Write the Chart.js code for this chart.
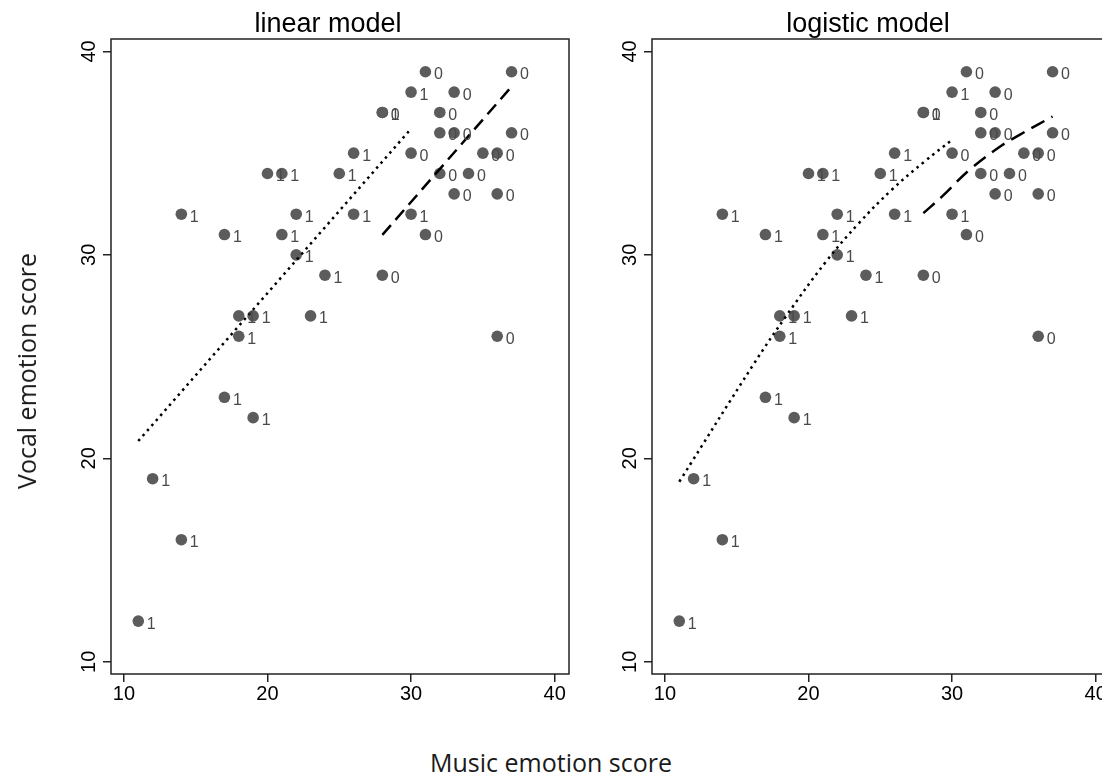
<!DOCTYPE html>
<html><head><meta charset="utf-8">
<script src="https://cdn.jsdelivr.net/npm/chart.js@4"></script>
<style>
html,body{margin:0;padding:0;background:#fff;overflow:hidden;width:1102px;height:775px;}
#wrap{position:relative;width:1102px;height:775px;overflow:hidden;background:#fff;}
.panel{position:absolute;top:0;width:580px;height:720px;}
.ptitle{position:absolute;top:6px;font-family:"Liberation Sans",Arial,sans-serif;font-size:27px;line-height:34px;color:#000;white-space:nowrap;transform:translateX(-50%);}
.atitle{position:absolute;font-family:"Open Sans",sans-serif;font-size:25px;line-height:30px;color:#1a1a1a;white-space:nowrap;}
</style></head>
<body>
<div id="wrap">
  <canvas id="c1" class="panel" width="580" height="720" style="left:0px"></canvas>
  <canvas id="c2" class="panel" width="580" height="720" style="left:541px"></canvas>
  <div class="ptitle" style="left:328px">linear model</div>
  <div class="ptitle" style="left:868px">logistic model</div>
  <div class="atitle" style="left:26px;top:371px;transform:translate(-50%,-50%) rotate(-90deg);">Vocal emotion score</div>
  <div class="atitle" style="left:551px;top:762px;transform:translate(-50%,-50%);">Music emotion score</div>
</div>
<script>
// ---- data ----
const music = [11,12,14,14,17,17,18,18,19,19,20,21,21,22,22,23,24,25,26,26,28,28,28,30,30,30,31,31,32,32,32,33,33,33,34,35,36,36,36,37,37];
const vocal = [12,19,16,32,23,31,26,27,22,27,34,34,31,32,30,27,29,34,35,32,37,37,29,38,35,32,39,31,37,36,34,38,36,33,34,35,35,33,26,39,36];
const group = [1,1,1,1,1,1,1,1,1,1,1,1,1,1,1,1,1,1,1,1,1,0,0,1,0,1,0,0,0,0,0,0,0,0,0,0,0,0,0,0,0];

const xTicks = [10,20,30,40];
const yTicks = [10,20,30,40];

// linear model fits (group 1 dotted, group 0 dashed)
const linG1X = [11, 30];
const linG1Y = [20.85, 36.2];
const linG0X = [28, 37];
const linG0Y = [30.98, 38.27];

// logistic model fits
const logG1X = [11, 16.2, 18.45, 21.2, 23.5, 25.8, 28.1, 30];
const logG1Y = [18.85, 24.65, 27.0, 29.65, 31.55, 33.2, 34.6, 35.65];
const logG0X = [28, 29.35, 31.2, 33.3, 34.7, 37];
const logG0Y = [32.05, 32.9, 34.17, 35.3, 35.9, 36.8];

// ---- chart construction ----
const pts = music.map((m,i)=>({x:m, y:vocal[i]}));
const toXY = (xs,ys)=>xs.map((v,i)=>({x:v,y:ys[i]}));

const framePlugin = {
  id:'frame',
  afterDraw(chart){
    const a = chart.chartArea, ctx = chart.ctx;
    ctx.save();
    ctx.strokeStyle = '#222';
    ctx.lineWidth = 1.5;
    ctx.strokeRect(a.left, a.top, a.right - a.left, a.bottom - a.top);
    ctx.restore();
  }
};
const labelPlugin = {
  id:'mlabels',
  afterDatasetsDraw(chart){
    const meta = chart.getDatasetMeta(0);
    const ctx = chart.ctx;
    ctx.save();
    ctx.font = '16px "Liberation Sans", Arial, sans-serif';
    ctx.fillStyle = '#4a4a4a';
    ctx.textAlign = 'left';
    ctx.textBaseline = 'middle';
    meta.data.forEach((el,i)=>{ ctx.fillText(String(group[i]), el.x + 8.5, el.y + 3); });
    ctx.restore();
  }
};

function makeChart(id, g1, g0, dash1, dash0, curved){
  const tickFont = {family:'"Liberation Sans", Arial, sans-serif', size:20};
  new Chart(document.getElementById(id), {
    type:'scatter',
    data:{datasets:[
      {data:pts, pointRadius:5.8, pointHoverRadius:5.8, backgroundColor:'#5c5c5c', borderWidth:0, order:3},
      {data:g1, showLine:true, pointRadius:0, borderColor:'#000', borderWidth:2.5, borderDash:dash1, fill:false, tension: curved?0.4:0, order:1},
      {data:g0, showLine:true, pointRadius:0, borderColor:'#000', borderWidth:2.5, borderDash:dash0, fill:false, tension: curved?0.4:0, order:2}
    ]},
    options:{
      responsive:false, animation:false, devicePixelRatio:1,
      layout:{padding:{left:51, top:39, right:11, bottom:0}},
      plugins:{legend:{display:false}, tooltip:{enabled:false}, title:{display:false}},
      scales:{
        x:{type:'linear', min:9.1, max:41.0,
           afterBuildTicks:s=>{ s.ticks = xTicks.map(v=>({value:v})); },
           afterFit:s=>{ s.height = 46; },
           ticks:{font:tickFont, color:'#000', padding:0, maxRotation:0, minRotation:0, callback:v=>String(v)},
           grid:{drawOnChartArea:false, tickLength:8, color:'#222', lineWidth:1.5},
           border:{display:false}},
        y:{type:'linear', min:9.4, max:40.61,
           afterBuildTicks:s=>{ s.ticks = yTicks.map(v=>({value:v})); },
           afterFit:s=>{ s.width = 60; },
           ticks:{font:tickFont, color:'#000', padding:2, minRotation:90, maxRotation:90, crossAlign:'center', callback:v=>String(v)},
           grid:{drawOnChartArea:false, tickLength:8, color:'#222', lineWidth:1.5},
           border:{display:false}}
      }
    },
    plugins:[labelPlugin, framePlugin]
  });
}

makeChart('c1', toXY(linG1X,linG1Y), toXY(linG0X,linG0Y), [2.5,4.2], [13,7], false);
makeChart('c2', toXY(logG1X,logG1Y), toXY(logG0X,logG0Y), [2.5,4.2], [15,8], true);
</script>
</body></html>
